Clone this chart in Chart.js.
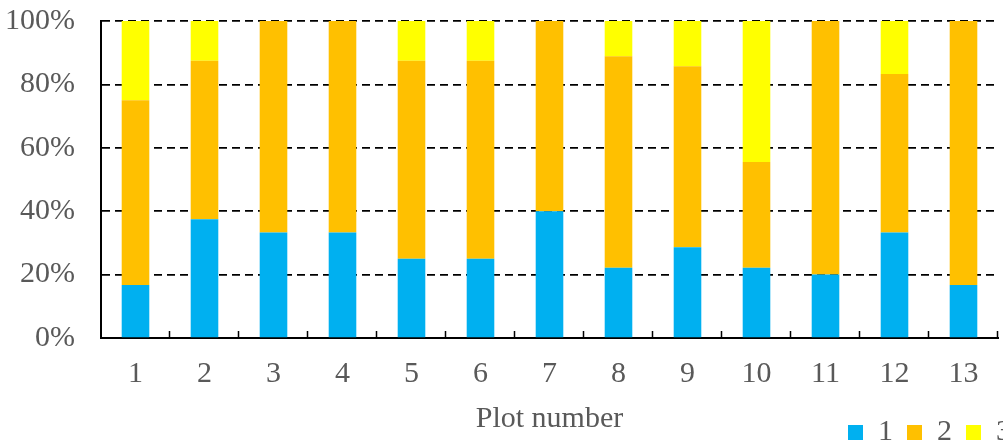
<!DOCTYPE html>
<html>
<head>
<meta charset="utf-8">
<script src="https://cdn.jsdelivr.net/npm/chart.js@4.4.1/dist/chart.umd.min.js"></script>
<style>
  html, body { margin: 0; padding: 0; background: #fff; }
  #wrap { width: 1003px; height: 441px; }
</style>
</head>
<body>
<div id="wrap"><canvas id="plotChart"></canvas></div>
<script>
// share of classes 1/2/3 per plot, in percent
var plotLabels = ["1","2","3","4","5","6","7","8","9","10","11","12","13"];
var class1 = [16.7, 37.5, 33.3, 33.3, 25.0, 25.0, 40.0, 22.2, 28.6, 22.2, 20.0, 33.3, 16.7];
var class2 = [58.3, 50.0, 66.7, 66.7, 62.5, 62.5, 60.0, 66.7, 57.1, 33.3, 80.0, 50.0, 83.3];
var class3 = [25.0, 12.5, 0, 0, 12.5, 12.5, 0, 11.1, 14.3, 44.5, 0, 16.7, 0];
var classNames = ["1", "2", "3"];
var classColors = ["#00B0F0", "#FFC000", "#FFFF00"];
var yTicks = [0, 20, 40, 60, 80, 100];

Chart.defaults.font.family = "'Liberation Serif', 'Times New Roman', serif";
Chart.defaults.color = "#595959";

// small upward tick marks between the categories
var categoryTicks = {
  id: 'categoryTicks',
  afterDraw: function(chart) {
    var x = chart.scales.x, ctx = chart.ctx;
    var half = (x.getPixelForValue(1) - x.getPixelForValue(0)) / 2;
    ctx.save();
    ctx.strokeStyle = "#000";
    ctx.lineWidth = 1.5;
    ctx.beginPath();
    for (var i = 0; i < plotLabels.length; i++) {
      var px = Math.round(x.getPixelForValue(i) + half) - 0.5;
      ctx.moveTo(px, x.top);
      ctx.lineTo(px, x.top - 7);
    }
    ctx.stroke();
    ctx.restore();
  }
};

// push the legend to the right edge, next to the axis title
var legendShift = {
  id: 'legendShift',
  afterLayout: function(chart) {
    chart.legend.left += 27;
    chart.legend.right += 27;
  }
};

var datasets = [class1, class2, class3].map(function(d, i) {
  return {
    label: classNames[i],
    data: d,
    backgroundColor: classColors[i],
    borderWidth: 0
  };
});

var ctx = document.getElementById('plotChart').getContext('2d');
var chart = new Chart(ctx, {
  type: 'bar',
  data: { labels: plotLabels, datasets: datasets },
  options: {
    responsive: true,
    maintainAspectRatio: false,
    animation: false,
    layout: { padding: { top: 21, right: 5, bottom: -16.5, left: 0 } },
    datasets: { bar: { categoryPercentage: 1, barPercentage: 0.4 } },
    plugins: {
      legend: {
        position: 'bottom',
        align: 'end',
        labels: { boxWidth: 15, boxHeight: 15, padding: 14, font: { size: 30 }, color: "#595959" }
      },
      tooltip: { enabled: false }
    },
    scales: {
      x: {
        stacked: true,
        afterFit: function(scale) { scale.height = 65.5; },
        grid: { display: false },
        border: { display: true, color: "#000", width: 2 },
        ticks: { padding: 10, font: { size: 30 }, color: "#595959", maxRotation: 0 },
        title: {
          display: true,
          text: 'Plot number',
          font: { size: 30 },
          color: "#595959",
          padding: { top: 0, bottom: -33.5 }
        }
      },
      y: {
        stacked: true,
        min: 0,
        max: 100,
        afterBuildTicks: function(scale) {
          scale.ticks = yTicks.map(function(v) { return { value: v }; });
        },
        afterFit: function(scale) {
          scale.width = 101;
          // label padding should not push the plot area down
          scale.paddingTop = 0;
          scale.paddingBottom = 0;
        },
        grid: { color: "#000", lineWidth: 1.75, drawTicks: false },
        border: { display: true, color: "#000", width: 2, dash: [8, 5] },
        ticks: {
          padding: 26,
          font: { size: 30 },
          color: "#595959",
          callback: function(v) { return v + '%'; }
        }
      }
    }
  },
  plugins: [categoryTicks, legendShift]
});
</script>
</body>
</html>
